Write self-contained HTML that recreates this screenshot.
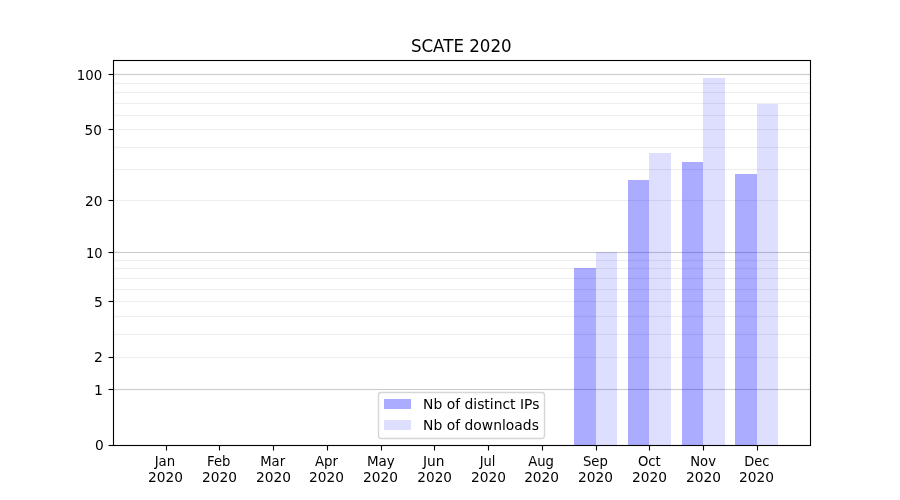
<!DOCTYPE html>
<html lang="en">
<head>
<meta charset="utf-8">
<title>SCATE 2020</title>
<style>
html,body{margin:0;padding:0;background:#fff;}
body{width:900px;height:500px;overflow:hidden;}
svg{display:block;will-change:transform;}
text{font-family:"DejaVu Sans","Liberation Sans",sans-serif;font-size:13.889px;fill:#000;}
.t{font-size:16.667px;}
.gM{fill:#cccccc;}
.gm{fill:#eeeeee;}
.ax{stroke:#000;stroke-width:1.11;fill:none;}
.b1{fill:#0000ff;fill-opacity:0.33;}
.b2{fill:#0000ff;fill-opacity:0.13;}
</style>
</head>
<body>
<svg width="900" height="500" viewBox="0 0 900 500">
<rect width="900" height="500" fill="#ffffff"/>
<g id="grid">
<rect class="gM" x="113" y="388.945" width="698" height="1.11"/>
<rect class="gM" x="113" y="251.945" width="698" height="1.11"/>
<rect class="gM" x="113" y="73.945" width="698" height="1.11"/>
<rect class="gm" x="113" y="356.945" width="698" height="1.11"/>
<rect class="gm" x="113" y="333.945" width="698" height="1.11"/>
<rect class="gm" x="113" y="315.945" width="698" height="1.11"/>
<rect class="gm" x="113" y="300.945" width="698" height="1.11"/>
<rect class="gm" x="113" y="288.945" width="698" height="1.11"/>
<rect class="gm" x="113" y="277.945" width="698" height="1.11"/>
<rect class="gm" x="113" y="267.945" width="698" height="1.11"/>
<rect class="gm" x="113" y="259.945" width="698" height="1.11"/>
<rect class="gm" x="113" y="199.945" width="698" height="1.11"/>
<rect class="gm" x="113" y="168.945" width="698" height="1.11"/>
<rect class="gm" x="113" y="146.945" width="698" height="1.11"/>
<rect class="gm" x="113" y="128.945" width="698" height="1.11"/>
<rect class="gm" x="113" y="114.945" width="698" height="1.11"/>
<rect class="gm" x="113" y="102.945" width="698" height="1.11"/>
<rect class="gm" x="113" y="91.945" width="698" height="1.11"/>
<rect class="gm" x="113" y="82.945" width="698" height="1.11"/>
</g>
<g id="bars">
<rect class="b1" x="574" y="268" width="22" height="177"/>
<rect class="b2" x="596" y="252" width="21" height="193"/>
<rect class="b1" x="628" y="180" width="21" height="265"/>
<rect class="b2" x="649" y="153" width="22" height="292"/>
<rect class="b1" x="682" y="162" width="21" height="283"/>
<rect class="b2" x="703" y="78" width="22" height="367"/>
<rect class="b1" x="735" y="174" width="22" height="271"/>
<rect class="b2" x="757" y="104" width="21" height="341"/>
</g>
<g id="ticks" class="ax">
<line x1="166.5" y1="445" x2="166.5" y2="450.5"/>
<line x1="219.5" y1="445" x2="219.5" y2="450.5"/>
<line x1="273.5" y1="445" x2="273.5" y2="450.5"/>
<line x1="327.5" y1="445" x2="327.5" y2="450.5"/>
<line x1="381.5" y1="445" x2="381.5" y2="450.5"/>
<line x1="434.5" y1="445" x2="434.5" y2="450.5"/>
<line x1="488.5" y1="445" x2="488.5" y2="450.5"/>
<line x1="542.5" y1="445" x2="542.5" y2="450.5"/>
<line x1="596.5" y1="445" x2="596.5" y2="450.5"/>
<line x1="649.5" y1="445" x2="649.5" y2="450.5"/>
<line x1="703.5" y1="445" x2="703.5" y2="450.5"/>
<line x1="757.5" y1="445" x2="757.5" y2="450.5"/>
<line x1="108.5" y1="445.5" x2="113" y2="445.5"/>
<line x1="108.5" y1="389.5" x2="113" y2="389.5"/>
<line x1="108.5" y1="357.5" x2="113" y2="357.5"/>
<line x1="108.5" y1="301.5" x2="113" y2="301.5"/>
<line x1="108.5" y1="252.5" x2="113" y2="252.5"/>
<line x1="108.5" y1="200.5" x2="113" y2="200.5"/>
<line x1="108.5" y1="129.5" x2="113" y2="129.5"/>
<line x1="108.5" y1="74.5" x2="113" y2="74.5"/>
</g>
<rect class="ax" x="113.5" y="60.5" width="697.0" height="385.0"/>
<g id="labels">
<g id="ylabels" text-anchor="end">
<text transform="translate(103.78 450.00) scale(0.99 1.03)">0</text>
<text transform="translate(103.03 394.75) scale(1.01 0.99)">1</text>
<text transform="translate(102.78 361.75) scale(1.00 1.02)">2</text>
<text transform="translate(102.78 307.00) scale(1.00 1.03)">5</text>
<text transform="translate(102.53 257.75) scale(0.94 1.01)">10</text>
<text transform="translate(102.53 206.00) scale(0.99 1.03)">20</text>
<text transform="translate(101.78 134.75) scale(0.98 1.06)">50</text>
<text transform="translate(102.28 79.75) scale(0.96 1.01)">100</text>
</g>
<g id="xlabels" text-anchor="middle">
<text transform="translate(164.95 465.65) scale(0.96 1.05)">Jan</text><text transform="translate(165.45 481.90) scale(0.99 1.03)">2020</text>
<text transform="translate(218.69 465.65) scale(0.95 1.01)">Feb</text><text transform="translate(219.44 481.90) scale(0.99 1.03)">2020</text>
<text transform="translate(272.67 465.65) scale(0.95 0.98)">Mar</text><text transform="translate(273.42 481.90) scale(0.99 1.03)">2020</text>
<text transform="translate(326.41 465.65) scale(0.96 1.01)">Apr</text><text transform="translate(326.41 481.90) scale(0.99 1.03)">2020</text>
<text transform="translate(380.90 465.90) scale(0.97 1.03)">May</text><text transform="translate(380.40 481.90) scale(0.99 1.03)">2020</text>
<text transform="translate(433.63 465.65) scale(0.99 1.05)">Jun</text><text transform="translate(434.63 481.90) scale(0.98 1.03)">2020</text>
<text transform="translate(487.62 465.65) scale(0.94 1.04)">Jul</text><text transform="translate(488.62 481.65) scale(0.99 0.99)">2020</text>
<text transform="translate(541.10 465.65) scale(0.95 1.05)">Aug</text><text transform="translate(541.60 481.90) scale(0.99 1.03)">2020</text>
<text transform="translate(595.34 465.65) scale(0.95 1.06)">Sep</text><text transform="translate(595.59 481.90) scale(0.99 1.03)">2020</text>
<text transform="translate(649.33 465.90) scale(0.95 1.03)">Oct</text><text transform="translate(649.58 481.90) scale(0.99 1.03)">2020</text>
<text transform="translate(703.06 465.65) scale(0.95 0.98)">Nov</text><text transform="translate(703.56 481.90) scale(0.99 1.03)">2020</text>
<text transform="translate(756.80 465.65) scale(0.94 1.02)">Dec</text><text transform="translate(756.55 481.90) scale(0.99 1.03)">2020</text>
</g>
<g text-anchor="middle"><text class="t" transform="translate(461.25 51.65) scale(1.00 1.06)">SCATE 2020</text></g>
</g>
<g id="legend">
<rect x="378.5" y="392.5" width="166" height="46" rx="2.78" ry="2.78" fill="#ffffff" fill-opacity="0.8" stroke="#cccccc" stroke-opacity="0.8" stroke-width="1.39"/>
<rect class="b1" x="384" y="399" width="27" height="10"/>
<rect class="b2" x="384" y="420" width="27" height="10"/>
<text transform="translate(423.07 408.70) scale(1.00 1.07)">Nb of distinct IPs</text>
<text transform="translate(423.07 429.60) scale(1.00 0.98)">Nb of downloads</text>
</g>
</svg>
</body>
</html>
